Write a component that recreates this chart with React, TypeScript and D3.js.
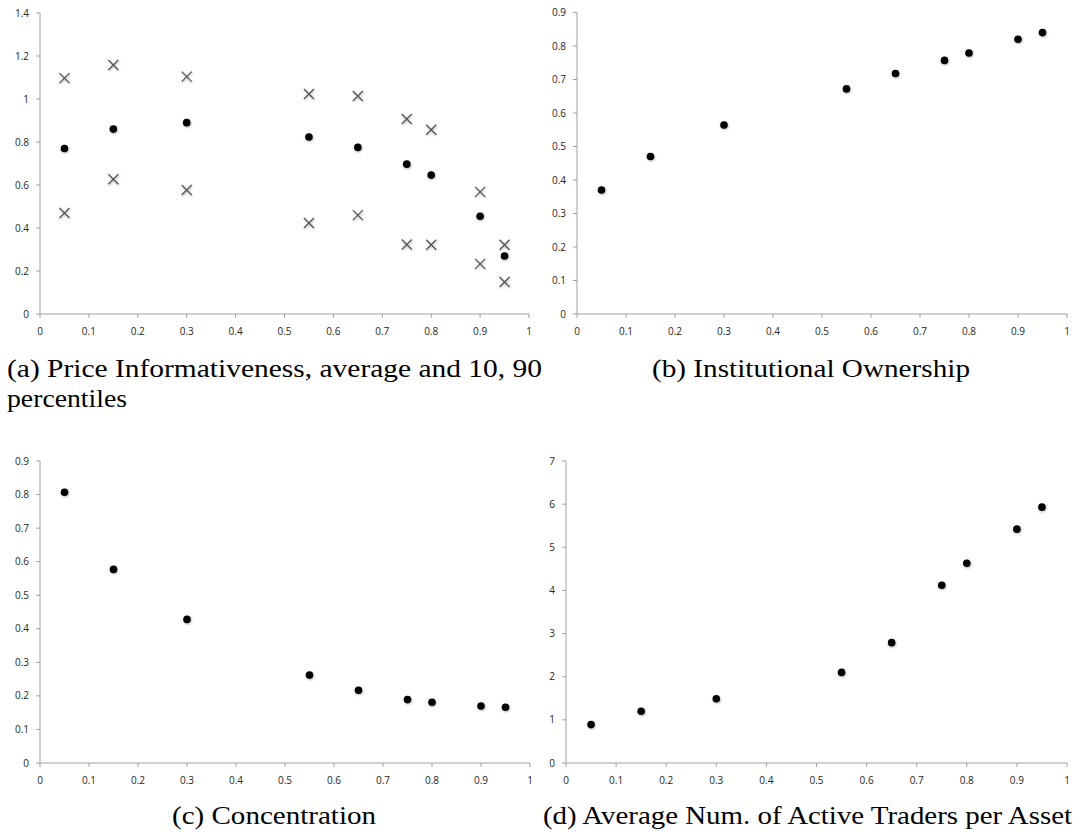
import React from "react";
import * as d3 from "d3";

// ---- data ----
const xVals = [0.05, 0.15, 0.3, 0.55, 0.65, 0.75, 0.8, 0.9, 0.95];
const priceAvg = [0.77, 0.86, 0.89, 0.823, 0.775, 0.697, 0.646, 0.455, 0.27];
const priceP90 = [1.097, 1.158, 1.104, 1.023, 1.014, 0.907, 0.857, 0.568, 0.322];
const priceP10 = [0.47, 0.627, 0.577, 0.423, 0.46, 0.323, 0.322, 0.233, 0.149];
const institutional = [0.37, 0.47, 0.564, 0.672, 0.718, 0.757, 0.779, 0.82, 0.84];
const concentration = [0.807, 0.577, 0.428, 0.262, 0.217, 0.189, 0.181, 0.17, 0.166];
const traders = [0.89, 1.2, 1.49, 2.1, 2.79, 4.12, 4.63, 5.42, 5.93];

const xTicks = [0, 0.1, 0.2, 0.3, 0.4, 0.5, 0.6, 0.7, 0.8, 0.9, 1];
const xTickLabels = ["0", "0.1", "0.2", "0.3", "0.4", "0.5", "0.6", "0.7", "0.8", "0.9", "1"];
const yTicksA = [0, 0.2, 0.4, 0.6, 0.8, 1, 1.2, 1.4];
const yTickLabelsA = ["0", "0.2", "0.4", "0.6", "0.8", "1", "1.2", "1.4"];
const yTicksB = [0, 0.1, 0.2, 0.3, 0.4, 0.5, 0.6, 0.7, 0.8, 0.9];
const yTickLabelsB = ["0", "0.1", "0.2", "0.3", "0.4", "0.5", "0.6", "0.7", "0.8", "0.9"];
const yTicksD = [0, 1, 2, 3, 4, 5, 6, 7];
const yTickLabelsD = ["0", "1", "2", "3", "4", "5", "6", "7"];

const captionA1 = "(a) Price Informativeness, average and 10, 90";
const captionA2 = "percentiles";
const captionB = "(b) Institutional Ownership";
const captionC = "(c) Concentration";
const captionD = "(d) Average Num. of Active Traders per Asset";

const AXIS = "#a0a0a0";
const LABEL = "#262626";
const TICKFONT = "'Open Sans', 'Liberation Sans', sans-serif";
const SERIF = "'Liberation Serif', 'DejaVu Serif', serif";

type Box = { left: number; right: number; top: number; bottom: number };

function Panel({
  box,
  yMax,
  yTicks,
  yLabels,
  dots,
  crosses,
}: {
  box: Box;
  yMax: number;
  yTicks: number[];
  yLabels: string[];
  dots: number[];
  crosses?: number[][];
}) {
  const x = d3.scaleLinear().domain([0, 1]).range([box.left, box.right]);
  const y = d3.scaleLinear().domain([0, yMax]).range([box.bottom, box.top]);
  const cs = 5;
  return (
    <g>
      {/* axes */}
      <line x1={box.left} x2={box.left} y1={y(yMax)} y2={y(0)} stroke={AXIS} strokeWidth={1} />
      <line x1={x(0)} x2={x(1)} y1={box.bottom} y2={box.bottom} stroke={AXIS} strokeWidth={1} />
      {yTicks.map((t, i) => (
        <g key={"y" + i}>
          <line x1={box.left - 4} x2={box.left} y1={y(t)} y2={y(t)} stroke={AXIS} strokeWidth={1} />
          <text
            x={box.left - 11}
            y={y(t)}
            dy="0.35em"
            textAnchor="end"
            fontFamily={TICKFONT}
            fontSize={10}
            fill={LABEL}
          >
            {yLabels[i]}
          </text>
        </g>
      ))}
      {xTicks.map((t, i) => (
        <g key={"x" + i}>
          <line x1={x(t)} x2={x(t)} y1={box.bottom} y2={box.bottom + 4} stroke={AXIS} strokeWidth={1} />
          <text
            x={x(t)}
            y={box.bottom + 21}
            textAnchor="middle"
            fontFamily={TICKFONT}
            fontSize={10}
            fill={LABEL}
          >
            {xTickLabels[i]}
          </text>
        </g>
      ))}
      {crosses &&
        crosses.map((series, si) =>
          series.map((v, i) => {
            const cx = x(xVals[i]);
            const cy = y(v);
            return (
              <path
                key={"c" + si + "-" + i}
                d={`M${cx - cs},${cy - cs}L${cx + cs},${cy + cs}M${cx - cs},${cy + cs}L${cx + cs},${cy - cs}`}
                stroke="#555"
                strokeWidth={1.3}
                fill="none"
                filter="url(#shadow)"
              />
            );
          })
        )}
      {dots.map((v, i) => (
        <circle key={"d" + i} cx={x(xVals[i])} cy={y(v)} r={3.8} fill="#000" filter="url(#shadow)" />
      ))}
    </g>
  );
}

export default function App() {
  return (
    <svg
      width={1080}
      height={835}
      viewBox="0 0 1080 835"
      style={{ position: "absolute", left: 0, top: 0, background: "#fff" }}
    >
      <defs>
        <filter id="shadow" x="-50%" y="-50%" width="200%" height="200%">
          <feDropShadow dx={0.6} dy={1} stdDeviation={0.8} floodColor="#000" floodOpacity={0.3} />
        </filter>
      </defs>
      <rect x={0} y={0} width={1080} height={835} fill="#fff" />

      <Panel
        box={{ left: 40, right: 529, top: 13, bottom: 314 }}
        yMax={1.4}
        yTicks={yTicksA}
        yLabels={yTickLabelsA}
        dots={priceAvg}
        crosses={[priceP90, priceP10]}
      />
      <Panel
        box={{ left: 577, right: 1067, top: 12.5, bottom: 314 }}
        yMax={0.9}
        yTicks={yTicksB}
        yLabels={yTickLabelsB}
        dots={institutional}
      />
      <Panel
        box={{ left: 40, right: 530, top: 461, bottom: 763 }}
        yMax={0.9}
        yTicks={yTicksB}
        yLabels={yTickLabelsB}
        dots={concentration}
      />
      <Panel
        box={{ left: 566, right: 1067, top: 461, bottom: 763 }}
        yMax={7}
        yTicks={yTicksD}
        yLabels={yTickLabelsD}
        dots={traders}
      />

      <g fontFamily={SERIF} fontSize={26} fill="#000">
        <text x={7} y={377} textLength={535} lengthAdjust="spacingAndGlyphs">
          {captionA1}
        </text>
        <text x={7} y={407} textLength={120} lengthAdjust="spacingAndGlyphs">
          {captionA2}
        </text>
        <text x={652} y={377} textLength={318} lengthAdjust="spacingAndGlyphs">
          {captionB}
        </text>
        <text x={172} y={824} textLength={204} lengthAdjust="spacingAndGlyphs">
          {captionC}
        </text>
        <text x={543} y={824} textLength={529} lengthAdjust="spacingAndGlyphs">
          {captionD}
        </text>
      </g>
    </svg>
  );
}
